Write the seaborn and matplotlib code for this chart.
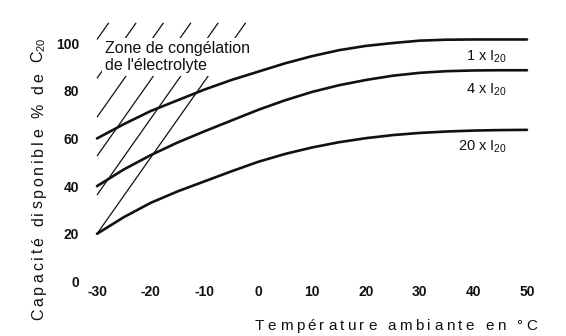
import matplotlib
matplotlib.use("Agg")
import matplotlib.pyplot as plt
import pandas as pd
import seaborn as sns
from matplotlib import font_manager
from matplotlib.ft2font import FT2Font

# ---- data -------------------------------------------------------------
temperature = [-30, -25, -20, -15, -10, -5, 0, 5, 10, 15, 20, 25, 30, 35, 40, 45, 50]
capacity_1x = [60, 66, 71.5, 76, 80.5, 84.5, 88, 91.5, 94.5, 97, 98.8, 100, 101, 101.4, 101.5, 101.5, 101.5]
capacity_4x = [40, 47, 53, 58.3, 63, 67.5, 72, 76, 79.5, 82.3, 84.5, 86.3, 87.5, 88.2, 88.5, 88.6, 88.6]
capacity_20x = [20, 27, 33, 37.8, 42, 46.2, 50.2, 53.5, 56.2, 58.4, 60.1, 61.4, 62.3, 62.9, 63.3, 63.5, 63.6]
series_labels = [r"1 x I$_{20}$", r"4 x I$_{20}$", r"20 x I$_{20}$"]

# electrolyte freezing zone: parallel hatch lines (value at -30 °C, rise per °C, upper bound)
freeze_start = [20, 36.3, 52.6, 68.9, 85.2, 101.5]
freeze_slope = 3.2
freeze_top = 108.5

x_ticks = [-30, -20, -10, 0, 10, 20, 30, 40, 50]
x_tick_labels = ["-30", "-20", "-10", "0", "10", "20", "30", "40", "50"]
y_ticks = [0, 20, 40, 60, 80, 100]
y_tick_labels = ["0", "20", "40", "60", "80", "100"]

x_title = "Température ambiante en °C"
y_title = "Capacité disponible % de "
y_title_tail = r"C$_{20}$"
zone_title = "Zone de congélation\nde l'électrolyte"

# ---- style ------------------------------------------------------------
W, H, DPI = 566, 336, 100
INK = "#111111"
FAMILY = "Liberation Sans"

sns.set_theme(style="white")
plt.rcParams["font.family"] = [FAMILY, "DejaVu Sans"]
plt.rcParams["mathtext.fontset"] = "custom"
plt.rcParams["mathtext.rm"] = FAMILY
plt.rcParams["mathtext.it"] = FAMILY + ":italic"
plt.rcParams["mathtext.bf"] = FAMILY + ":bold"

fig = plt.figure(figsize=(W / DPI, H / DPI), dpi=DPI)
fig.patch.set_facecolor("white")
ax = fig.add_axes([91.625 / W, 1 - 283.9 / H, 440.75 / W, 264.7 / H])
ax.set_facecolor("white")

# ---- curves -------------------------------------------------------------
df = pd.DataFrame({
    "Température": temperature * 3,
    "Capacité": capacity_1x + capacity_4x + capacity_20x,
    "Régime": [lab for lab in series_labels for _ in temperature],
})
sns.lineplot(data=df, x="Température", y="Capacité", hue="Régime",
             hue_order=series_labels, palette=[INK] * 3, linewidth=1.9,
             legend=False, ax=ax, zorder=5)

for v0 in freeze_start:
    t_end = temperature[0] + (freeze_top - v0) / freeze_slope
    ax.plot([temperature[0], t_end], [v0, freeze_top], color=INK, lw=0.9,
            solid_capstyle="butt", zorder=2)

ax.text(-28.5, 100.8, zone_title, fontsize=11.5, color=INK, ha="left", va="top",
        linespacing=1.15, zorder=4,
        bbox=dict(boxstyle="square,pad=0.18", fc="white", ec="none"))

label_y = [92.8, 78.6, 54.8]
for lab, yv in zip(series_labels, label_y):
    ax.text(46.3, yv, lab, fontsize=10.5, color=INK, ha="right", va="baseline", zorder=6)

# ---- axes ---------------------------------------------------------------
ax.set_xlim(-31, 51)
ax.set_ylim(-1, 110)
ax.set_xticks(x_ticks)
ax.set_xticklabels(x_tick_labels, fontsize=10, fontweight="bold", color=INK)
ax.set_yticks(y_ticks)
ax.set_yticklabels(y_tick_labels, fontsize=10, fontweight="bold", color=INK)
ax.tick_params(axis="both", length=0)
ax.tick_params(axis="x", pad=1)
ax.tick_params(axis="y", pad=9)
ax.set_xlabel("")
ax.set_ylabel("")
ax.grid(False)
sns.despine(ax=ax, left=True, bottom=True)


# ---- letter-spaced axis titles -------------------------------------------
def advances(chars, size_pt):
    path = font_manager.findfont(font_manager.FontProperties(family=FAMILY))
    ft = FT2Font(path)
    ft.set_size(size_pt, DPI)
    return [ft.load_char(ord(c)).linearHoriAdvance / 65536 for c in chars]


def tracked_text(pieces, widths, start, end, base, size, vertical=False):
    extra = (abs(end - start) - sum(widths)) / (len(pieces) - 1)
    pos = 0.0
    for piece, w in zip(pieces, widths):
        if piece.strip():
            if vertical:
                fig.text(base / W, 1 - (start - pos) / H, piece, rotation=90,
                         rotation_mode="anchor", ha="left", va="baseline",
                         fontsize=size, color=INK)
            else:
                fig.text((start + pos) / W, 1 - base / H, piece, ha="left",
                         va="baseline", fontsize=size, color=INK)
        pos += w + extra


xs = 11
tracked_text(list(x_title), advances(x_title, xs), 255, 537, 330, xs)

ys = 11.5
c_adv = advances("C20", ys)
tail_w = c_adv[0] + 0.7 * (c_adv[1] + c_adv[2])
tracked_text(list(y_title) + [y_title_tail], advances(y_title, ys) + [tail_w],
             320, 39, 43, ys, vertical=True)

fig.savefig("out.png", dpi=DPI, facecolor="white")
